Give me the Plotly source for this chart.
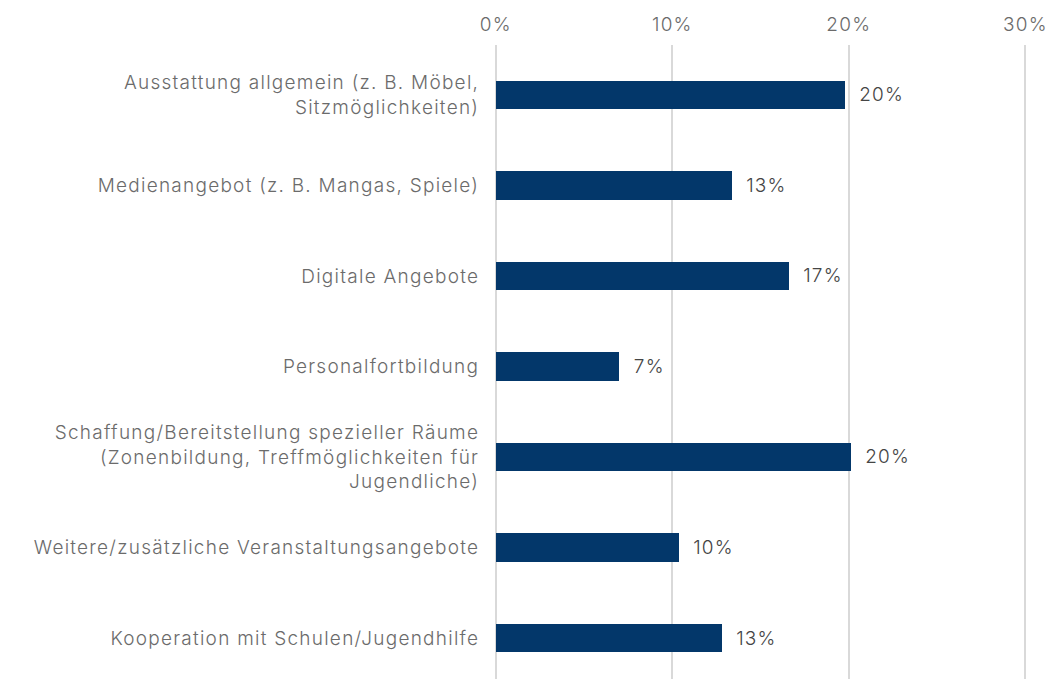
import plotly.graph_objects as go

# Survey categories (top to bottom) and shares in percent
categories = [
    "Ausstattung allgemein (z. B. Möbel,<br>Sitzmöglichkeiten)",
    "Medienangebot (z. B. Mangas, Spiele)",
    "Digitale Angebote",
    "Personalfortbildung",
    "Schaffung/Bereitstellung spezieller Räume<br>(Zonenbildung, Treffmöglichkeiten für<br>Jugendliche)",
    "Weitere/zusätzliche Veranstaltungsangebote",
    "Kooperation mit Schulen/Jugendhilfe",
]
shares = [19.8, 13.4, 16.6, 7.0, 20.1, 10.4, 12.8]
x_ticks = [0, 10, 20, 30]

FONT = "Inter"
BAR_COLOR = "#03376A"
SIZE = 19

fig = go.Figure(
    go.Bar(
        x=shares,
        y=list(range(len(categories))),
        orientation="h",
        width=0.31,
        marker=dict(color=BAR_COLOR, line=dict(width=0)),
        hoverinfo="skip",
    )
)

# value labels to the right of each bar
for i, v in enumerate(shares):
    fig.add_annotation(
        x=v, y=i, xref="x", yref="y",
        text=f"{v:.0f}%", showarrow=False,
        xanchor="left", yanchor="middle", xshift=14,
        font=dict(family=FONT, size=SIZE, color="#454545", weight=300),
    )

fig.update_layout(
    width=1047, height=679,
    margin=dict(l=494, r=19, t=45, b=0),
    paper_bgcolor="white", plot_bgcolor="white",
    showlegend=False,
    bargap=0,
    font=dict(family=FONT, size=SIZE, color="#6B6B6B"),
    xaxis=dict(
        side="top",
        # small padding so the 0% and 30% grid lines are kept
        range=[-0.1, 30.15],
        tickvals=x_ticks,
        ticktext=[f"{t}%" for t in x_ticks],
        showgrid=True, gridcolor="#D9D9D9", gridwidth=1.5,
        zeroline=False, showline=False,
        ticks="outside", ticklen=5, tickcolor="rgba(0,0,0,0)",
        tickfont=dict(family=FONT, size=SIZE, color="#6B6B6B", weight=300),
    ),
    yaxis=dict(
        range=[6.453, -0.552],
        tickvals=list(range(len(categories))),
        ticktext=categories,
        showgrid=False, zeroline=False, showline=False,
        ticks="outside", ticklen=10, tickcolor="rgba(0,0,0,0)",
        tickfont=dict(family=FONT, size=SIZE, color="#6B6B6B", weight=300),
    ),
)

# wide tracking for all chart text
tracking_css = (
    "var s=document.createElement('style');"
    "s.textContent='.xtick text,.ytick text,.annotation-text{letter-spacing:1.25px}';"
    "document.head.appendChild(s);"
)

fig.write_html("out.html", post_script=tracking_css)
